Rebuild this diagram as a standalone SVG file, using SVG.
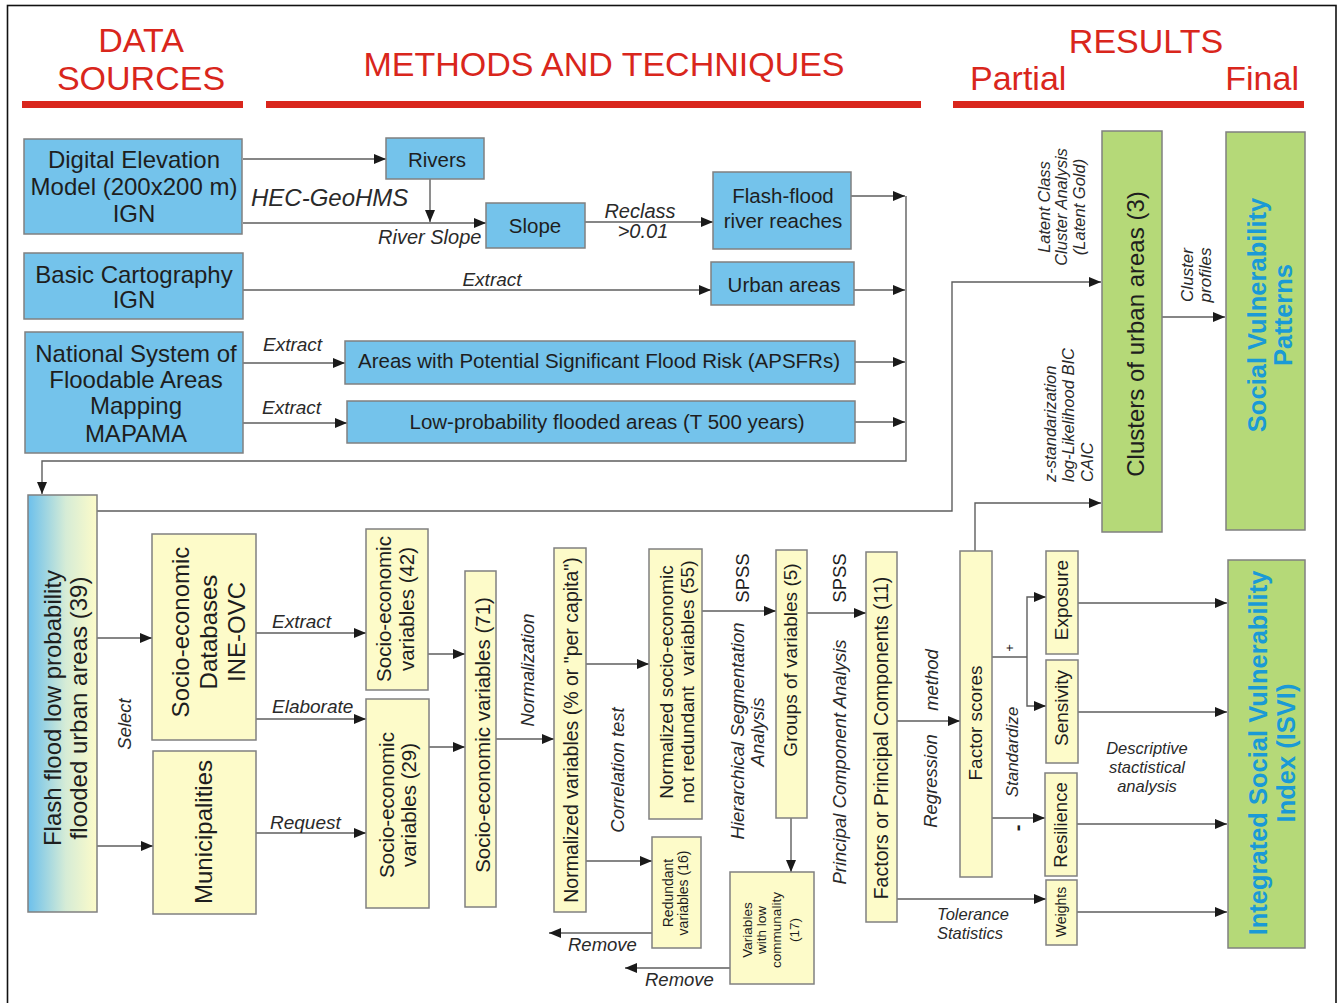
<svg xmlns="http://www.w3.org/2000/svg" width="1338" height="1003" viewBox="0 0 1338 1003">
<style>
text{font-family:"Liberation Sans",Arial,sans-serif;fill:#1e1e1e}
.h{fill:#d9261c;font-size:34px}
.b{fill:#74c3eb;stroke:#808080;stroke-width:1.5}
.y{fill:#fdfbc9;stroke:#808080;stroke-width:1.5}
.g{fill:#b5d978;stroke:#808080;stroke-width:1.5}
.c{fill:none;stroke:#5e5e5e;stroke-width:1.4}
.ca{fill:none;stroke:#5e5e5e;stroke-width:1.4;marker-end:url(#a)}
.i{font-style:italic;fill:#2a2a2a}
.t24{font-size:24px}
.t20{font-size:20.5px}
.t19{font-size:19px}
.t14{font-size:14px}
.bl{fill:#1a9ad6;font-weight:bold;font-size:25.5px}
.m{text-anchor:middle}
</style>
<defs>
<marker id="a" viewBox="0 0 12 10" refX="12" refY="5" markerWidth="12" markerHeight="10" orient="auto" markerUnits="userSpaceOnUse"><path d="M0,0 L12,5 L0,10 z" fill="#1a1a1a"/></marker>
<linearGradient id="gr" x1="0" y1="0" x2="1" y2="0"><stop offset="0" stop-color="#6cc0ec"/><stop offset="0.55" stop-color="#d6ecd6"/><stop offset="1" stop-color="#fdfbc9"/></linearGradient>
</defs>
<rect x="0" y="0" width="1338" height="1003" fill="#fff"/>
<rect x="7.5" y="5.5" width="1328.5" height="1010" fill="none" stroke="#111" stroke-width="1.6"/>

<g id="headers">
<text class="h m" x="141" y="52">DATA</text>
<text class="h m" x="141" y="90">SOURCES</text>
<text class="h m" x="604" y="76">METHODS AND TECHNIQUES</text>
<text class="h m" x="1146" y="53">RESULTS</text>
<text class="h" x="970" y="90">Partial</text>
<text class="h" x="1299" y="90" text-anchor="end">Final</text>
<rect x="22" y="101" width="221" height="7" fill="#d9261c"/>
<rect x="266" y="101" width="655" height="7" fill="#d9261c"/>
<rect x="953" y="101" width="351" height="7" fill="#d9261c"/>
</g>

<g id="connectors">
<path class="ca" d="M243,159 H386"/>
<path class="ca" d="M243,223 H486"/>
<path class="ca" d="M430,179 V222"/>
<path class="ca" d="M585,222 H713"/>
<path class="ca" d="M851,196 H905"/>
<path class="ca" d="M243,290 H711"/>
<path class="ca" d="M854,290 H905"/>
<path class="ca" d="M243,363 H345"/>
<path class="ca" d="M855,362 H905"/>
<path class="ca" d="M243,423 H347"/>
<path class="ca" d="M855,422 H905"/>
<path class="ca" d="M906,196 V461 H42 V494"/>
<path class="ca" d="M97,511 H952 V282 H1101"/>
<path class="ca" d="M975,551 V503 H1101"/>
<path class="ca" d="M1162,317 H1225"/>
<path class="ca" d="M97,638 H152"/>
<path class="ca" d="M97,846 H153"/>
<path class="ca" d="M256,633 H366"/>
<path class="ca" d="M256,719 H366"/>
<path class="ca" d="M256,833 H366"/>
<path class="ca" d="M428,654 H465"/>
<path class="ca" d="M429,747 H465"/>
<path class="ca" d="M496,739 H554"/>
<path class="ca" d="M586,664 H649"/>
<path class="ca" d="M586,861 H652"/>
<path class="ca" d="M652,933 H549"/>
<path class="ca" d="M702,611 H776"/>
<path class="ca" d="M791,818 V872"/>
<path class="ca" d="M730,968 H625"/>
<path class="ca" d="M807,613 H866"/>
<path class="ca" d="M897,721 H960"/>
<path class="ca" d="M897,899 H1046"/>
<path class="c" d="M992,657 H1027"/>
<path class="ca" d="M1027,657 V597 H1046"/>
<path class="ca" d="M1027,657 V706 H1046"/>
<path class="ca" d="M992,818 H1045"/>
<path class="ca" d="M1078,603 H1227"/>
<path class="ca" d="M1078,712 H1227"/>
<path class="ca" d="M1077,824 H1227"/>
<path class="ca" d="M1077,912 H1227"/>
</g>

<g id="labels">
<text class="i" x="251" y="206" font-size="24">HEC-GeoHMS</text>
<text class="i" x="378" y="244" font-size="20">River Slope</text>
<text class="i m" x="640" y="218" font-size="20">Reclass</text>
<text class="i m" x="643" y="238" font-size="20">&gt;0.01</text>
<text class="i m" x="492" y="286" font-size="19">Extract</text>
<text class="i" x="263" y="351" font-size="19">Extract</text>
<text class="i" x="262" y="414" font-size="19">Extract</text>
<text class="i" x="272" y="628" font-size="19">Extract</text>
<text class="i" x="272" y="713" font-size="19">Elaborate</text>
<text class="i" x="270" y="829" font-size="19">Request</text>
<text class="i" x="568" y="951" font-size="18.5">Remove</text>
<text class="i" x="645" y="986" font-size="18.5">Remove</text>
<text class="i m" x="973" y="920" font-size="16.5">Tolerance</text>
<text class="i m" x="970" y="939" font-size="16.5">Statistics</text>
<text class="i m" x="1147" y="754" font-size="16.5">Descriptive</text>
<text class="i m" x="1147" y="773" font-size="16.5">stactistical</text>
<text class="i m" x="1147" y="792" font-size="16.5">analysis</text>
<text class="i m" transform="translate(131,724) rotate(-90)" font-size="18.5">Select</text>
<text class="i m" transform="translate(534,670) rotate(-90)" font-size="18.5">Normalization</text>
<text class="i m" transform="translate(624,770) rotate(-90)" font-size="18.5">Correlation test</text>
<text class="i m" transform="translate(744,731) rotate(-90)" font-size="18.5">Hierarchical Segmentation</text>
<text class="i m" transform="translate(764,732) rotate(-90)" font-size="18.5">Analysis</text>
<text class="m" transform="translate(749,578) rotate(-90)" font-size="18.5" fill="#2a2a2a">SPSS</text>
<text class="m" transform="translate(846,578) rotate(-90)" font-size="18.5" fill="#2a2a2a">SPSS</text>
<text class="i m" transform="translate(846,762) rotate(-90)" font-size="18.5">Principal Component Analysis</text>
<text class="i m" transform="translate(937,781) rotate(-90)" font-size="18.5">Regression</text>
<text class="i m" transform="translate(938,680) rotate(-90)" font-size="18.5">method</text>
<text class="i m" transform="translate(1018,752) rotate(-90)" font-size="17">Standardize</text>
<text class="m" transform="translate(1014,648) rotate(-90)" font-size="13">+</text>
<text class="m" transform="translate(1024,828) rotate(-90)" font-size="20" font-weight="bold">-</text>
<text class="i m" transform="translate(1050,207) rotate(-90)" font-size="16.5">Latent Class</text>
<text class="i m" transform="translate(1067,207) rotate(-90)" font-size="16.5">Cluster Analysis</text>
<text class="i m" transform="translate(1085,207) rotate(-90)" font-size="16.5">(Latent Gold)</text>
<text class="i" transform="translate(1056,482) rotate(-90)" font-size="16.5">z-standarization</text>
<text class="i" transform="translate(1074,482) rotate(-90)" font-size="16.5">log-Likelihood BIC</text>
<text class="i" transform="translate(1093,482) rotate(-90)" font-size="16.5">CAIC</text>
<text class="i m" transform="translate(1193,275) rotate(-90)" font-size="17">Cluster</text>
<text class="i m" transform="translate(1211,275) rotate(-90)" font-size="17">profiles</text>
</g>

<g id="dem"><rect class="b" x="24" y="139" width="218" height="95"/>
<text class="t24 m" x="134" y="168">Digital Elevation</text><text class="t24 m" x="134" y="195">Model (200x200 m)</text><text class="t24 m" x="134" y="222">IGN</text></g>
<g id="rivers"><rect class="b" x="386" y="138" width="98" height="41"/><text class="t20 m" x="437" y="167">Rivers</text></g>
<g id="slope"><rect class="b" x="486" y="203" width="99" height="45"/><text class="t20 m" x="535" y="233">Slope</text></g>
<g id="flashreaches"><rect class="b" x="713" y="172" width="138" height="77"/><text class="t20 m" x="783" y="203">Flash-flood</text><text class="t20 m" x="783" y="228">river reaches</text></g>
<g id="basic"><rect class="b" x="24" y="253" width="219" height="66"/><text class="t24 m" x="134" y="283">Basic Cartography</text><text class="t24 m" x="134" y="308">IGN</text></g>
<g id="urban"><rect class="b" x="711" y="262" width="143" height="43"/><text class="t20 m" x="784" y="292">Urban areas</text></g>
<g id="national"><rect class="b" x="25" y="332" width="218" height="121"/><text class="t24 m" x="136" y="362">National System of</text><text class="t24 m" x="136" y="388">Floodable Areas</text><text class="t24 m" x="136" y="414">Mapping</text><text class="t24 m" x="136" y="442">MAPAMA</text></g>
<g id="apsfr"><rect class="b" x="345" y="341" width="510" height="43"/><text class="t20 m" x="599" y="368">Areas with Potential Significant Flood Risk (APSFRs)</text></g>
<g id="lowprob"><rect class="b" x="347" y="401" width="508" height="42"/><text class="t20 m" x="607" y="429">Low-probability flooded areas (T 500 years)</text></g>

<g id="flashurban"><rect x="28" y="495" width="69" height="417" fill="url(#gr)" stroke="#808080" stroke-width="1.5"/>
<text class="t24 m" transform="translate(61,708) rotate(-90)">Flash flood low probability</text><text class="t24 m" transform="translate(87,708) rotate(-90)">flooded urban areas (39)</text></g>
<g id="sedb"><rect class="y" x="152" y="534" width="104" height="206"/>
<text class="t24 m" transform="translate(189,632) rotate(-90)">Socio-economic</text><text class="t24 m" transform="translate(217,632) rotate(-90)">Databases</text><text class="t24 m" transform="translate(245,632) rotate(-90)">INE-OVC</text></g>
<g id="muni"><rect class="y" x="153" y="751" width="103" height="163"/><text class="t24 m" transform="translate(212,832) rotate(-90)">Municipalities</text></g>
<g id="se42"><rect class="y" x="366" y="529" width="62" height="161"/><text class="t20 m" transform="translate(391,609) rotate(-90)">Socio-economic</text><text class="t20 m" transform="translate(414,609) rotate(-90)">variables (42)</text></g>
<g id="se29"><rect class="y" x="366" y="699" width="63" height="209"/><text class="t20 m" transform="translate(394,805) rotate(-90)">Socio-economic</text><text class="t20 m" transform="translate(416,805) rotate(-90)">variables (29)</text></g>
<g id="se71"><rect class="y" x="465" y="571" width="31" height="336"/><text class="t20 m" transform="translate(490,735) rotate(-90)">Socio-economic variables (71)</text></g>
<g id="norm"><rect class="y" x="554" y="548" width="32" height="364"/><text class="m" font-size="19.5" transform="translate(578,730) rotate(-90)">Normalized variables (% or "per capita")</text></g>
<g id="nonred"><rect class="y" x="649" y="549" width="53" height="270"/><text class="t19 m" transform="translate(673,682) rotate(-90)">Normalized socio-economic</text><text class="t19 m" transform="translate(694,682) rotate(-90)" xml:space="preserve">not redundant  variables (55)</text></g>
<g id="redund"><rect class="y" x="652" y="837" width="49" height="111"/><text class="t14 m" transform="translate(673,893) rotate(-90)">Redundant</text><text class="t14 m" transform="translate(688,893) rotate(-90)">variables (16)</text></g>
<g id="groups"><rect class="y" x="776" y="550" width="31" height="268"/><text class="t19 m" transform="translate(797,660) rotate(-90)">Groups of variables (5)</text></g>
<g id="lowcomm"><rect class="y" x="730" y="872" width="84" height="112"/><text class="m" font-size="13.5" transform="translate(752,930) rotate(-90)">Variables</text><text class="m" font-size="13.5" transform="translate(766,930) rotate(-90)">with low</text><text class="m" font-size="13.5" transform="translate(781,930) rotate(-90)">communality</text><text class="m" font-size="13.5" transform="translate(799,930) rotate(-90)">(17)</text></g>
<g id="factors"><rect class="y" x="866" y="552" width="31" height="370"/><text class="m" font-size="19.5" transform="translate(888,738) rotate(-90)">Factors or Principal Components (11)</text></g>
<g id="fscores"><rect class="y" x="960" y="551" width="32" height="326"/><text class="t19 m" transform="translate(982,723) rotate(-90)">Factor scores</text></g>
<g id="exposure"><rect class="y" x="1046" y="551" width="32" height="103"/><text class="t19 m" transform="translate(1068,600) rotate(-90)">Exposure</text></g>
<g id="sensivity"><rect class="y" x="1046" y="660" width="32" height="103"/><text class="t19 m" transform="translate(1068,708) rotate(-90)">Sensivity</text></g>
<g id="resilience"><rect class="y" x="1045" y="773" width="32" height="103"/><text class="m" font-size="18.5" transform="translate(1067,825) rotate(-90)">Resilience</text></g>
<g id="weights"><rect class="y" x="1046" y="880" width="31" height="65"/><text class="t14 m" transform="translate(1066,912) rotate(-90)">Weights</text></g>

<g id="clusters"><rect class="g" x="1102" y="131" width="60" height="401"/><text class="t24 m" transform="translate(1144,334) rotate(-90)">Clusters of urban areas (3)</text></g>
<g id="svp"><rect class="g" x="1226" y="132" width="79" height="398"/><text class="bl m" transform="translate(1266,315) rotate(-90)">Social Vulnerability</text><text class="bl m" transform="translate(1292,315) rotate(-90)">Patterns</text></g>
<g id="isvi"><rect class="g" x="1228" y="560" width="77" height="388"/><text class="bl m" transform="translate(1267,753) rotate(-90)">Integrated Social Vulnerability</text><text class="bl m" transform="translate(1295,753) rotate(-90)">Index (ISVI)</text></g>
</svg>
